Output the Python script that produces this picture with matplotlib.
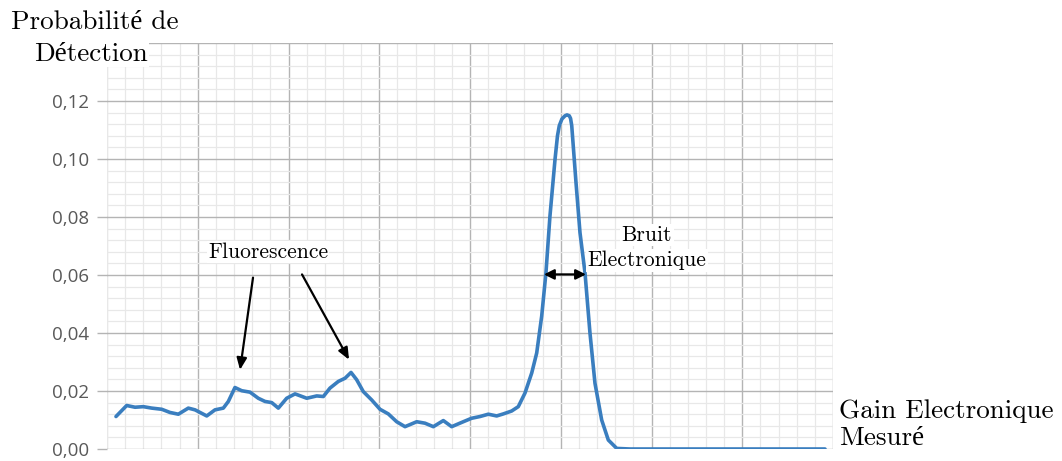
import matplotlib
matplotlib.use("Agg")
import matplotlib.pyplot as plt
from matplotlib.ticker import MultipleLocator, FixedLocator

# Data (x in major-grid units, y = detection probability)
gain = [0.099, 0.217, 0.309, 0.400, 0.493, 0.603, 0.694, 0.786, 0.896, 0.970,
        1.099, 1.190, 1.282, 1.337, 1.410, 1.484, 1.576, 1.667, 1.741, 1.815,
        1.888, 1.980, 2.072, 2.201, 2.311, 2.384, 2.457, 2.549, 2.623, 2.689,
        2.751, 2.824, 2.917, 3.008, 3.100, 3.192, 3.284, 3.413, 3.504, 3.596,
        3.706, 3.798, 3.926, 4.018, 4.110, 4.202, 4.294, 4.367, 4.459, 4.532,
        4.606, 4.680, 4.735, 4.790, 4.837, 4.881, 4.937, 4.964, 4.984, 5.013,
        5.047, 5.069, 5.094, 5.108, 5.121, 5.168, 5.212, 5.267, 5.322, 5.377,
        5.451, 5.524, 5.617, 5.763, 7.912]
prob = [0.0112, 0.0150, 0.0144, 0.0146, 0.0141, 0.0137, 0.0126, 0.0120, 0.0141, 0.0135,
        0.0114, 0.0135, 0.0141, 0.0164, 0.0212, 0.0201, 0.0196, 0.0175, 0.0164, 0.0160,
        0.0141, 0.0175, 0.0190, 0.0175, 0.0183, 0.0181, 0.0210, 0.0233, 0.0244, 0.0264,
        0.0239, 0.0198, 0.0169, 0.0137, 0.0121, 0.0094, 0.0077, 0.0094, 0.0089, 0.0077,
        0.0098, 0.0077, 0.0094, 0.0106, 0.0112, 0.0120, 0.0114, 0.0121, 0.0131, 0.0146,
        0.0193, 0.0262, 0.0331, 0.0458, 0.0608, 0.0803, 0.0999, 0.1080, 0.1115, 0.1138,
        0.1149, 0.1152, 0.1149, 0.1140, 0.1115, 0.0919, 0.0746, 0.0608, 0.0400, 0.0227,
        0.0100, 0.0031, 0.0002, 0.0, 0.0]

y_ticks = [0.00, 0.02, 0.04, 0.06, 0.08, 0.10, 0.12]
y_labels = ["0,00", "0,02", "0,04", "0,06", "0,08", "0,10", "0,12"]

fig = plt.figure(figsize=(10.62, 4.61), dpi=100)
ax = fig.add_axes([107/1062, 1-449/461, (833-107)/1062, (449-43)/461])

ax.set_xlim(0, 8)
ax.set_ylim(0, 0.14)

major_gray = "#b4b4b4"
minor_gray = "#e8e8e8"

ax.xaxis.set_major_locator(FixedLocator([1, 2, 3, 4, 5, 6, 7, 8]))
ax.xaxis.set_minor_locator(MultipleLocator(0.2))
ax.yaxis.set_major_locator(FixedLocator(y_ticks + [0.14]))
ax.yaxis.set_minor_locator(MultipleLocator(0.004))
ax.set_yticklabels(y_labels + [""])
ax.set_xticklabels([])

ax.grid(which="minor", color=minor_gray, lw=0.9, zorder=0)
ax.grid(which="major", color=major_gray, lw=1.0, zorder=0)
ax.set_axisbelow(True)
for s in ax.spines.values():
    s.set_visible(False)
ax.axvline(0, color=minor_gray, lw=1.0, zorder=0)

ax.tick_params(axis="y", which="major", length=7, color=major_gray, width=1.0,
               labelsize=13.5, labelcolor="#595959", pad=6)
ax.tick_params(axis="y", which="minor", length=0)
ax.tick_params(axis="x", which="both", length=0)
for lab in ax.get_yticklabels():
    lab.set_family(["Open Sans", "DejaVu Sans"])

ax.plot(gain, prob, color="#3a7ebf", lw=2.6, solid_joinstyle="round",
        solid_capstyle="round", zorder=3)

serif = ["cmr10", "Liberation Serif"]
box = dict(facecolor="white", edgecolor="none", pad=1)

ax.text(1.774, 0.0678, "Fluorescence", family=serif, fontsize=15.5,
        ha="center", va="center", bbox=box, zorder=4)
ax.text(5.95, 0.0737, "Bruit", family=serif, fontsize=15.5,
        ha="center", va="center", bbox=box, zorder=4)
ax.text(5.95, 0.0650, "Electronique", family=serif, fontsize=15.5,
        ha="center", va="center", bbox=box, zorder=4)

arrow = dict(arrowstyle="-|>,head_length=0.7,head_width=0.3", color="black",
             lw=1.6, shrinkA=0, shrinkB=0)
ax.annotate("", xy=(1.466, 0.0273), xytext=(1.609, 0.0591), arrowprops=arrow, zorder=5)
ax.annotate("", xy=(2.667, 0.0308), xytext=(2.149, 0.0602), arrowprops=arrow, zorder=5)
darrow = dict(arrowstyle="<|-|>,head_length=0.6,head_width=0.3", color="black",
              lw=1.6, shrinkA=0, shrinkB=0)
ax.annotate("", xy=(5.278, 0.0602), xytext=(4.815, 0.0602), arrowprops=darrow, zorder=5)

fig.text(95/1062, 1-22/461, "Probabilité de", family=serif, fontsize=19.5,
         ha="center", va="center", bbox=box, zorder=6)
fig.text(91/1062, 1-54/461, "Détection", family=serif, fontsize=19.5,
         ha="center", va="center", bbox=box, zorder=6)
fig.text(839/1062, 1-411/461, "Gain Electronique", family=serif, fontsize=19.5,
         ha="left", va="center")
fig.text(839/1062, 1-438/461, "Mesuré", family=serif, fontsize=19.5,
         ha="left", va="center")

fig.savefig("out.png", dpi=100)
